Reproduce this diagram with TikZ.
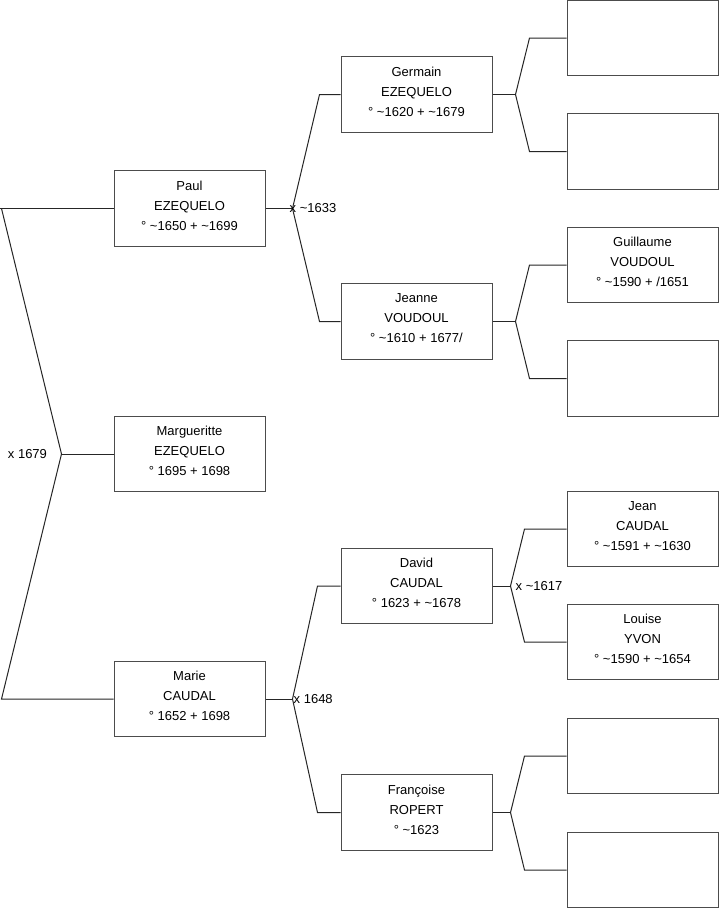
\documentclass[tikz,border=0pt]{standalone}
\usepackage{fontspec}
\setmainfont{Liberation Sans}
\usetikzlibrary{positioning}
\newcommand{\abt}{\textasciitilde}

\begin{document}
\begin{tikzpicture}[x=1pt,y=-1pt,every node/.style={font=\fontsize{13}{20}\selectfont},
  person/.style={draw=black!70,fill=white,line width=1pt,minimum width=151pt,minimum height=75.5pt,align=center,inner sep=0pt,
    execute at end node={\rule[-6pt]{0pt}{6pt}}},
  link/.style={draw=black!85,line width=1pt},
  wed/.style={inner sep=0pt,anchor=west}]
\fill[white] (0,0) rectangle (719,908);
\useasboundingbox (0,0) rectangle (719,908);
\node[person] (paul) at (189.5,208.5) {Paul\\EZEQUELO\\° \abt1650 + \abt1699};
\node[person] (marg) at (189.5,454) {Margueritte\\EZEQUELO\\° 1695 + 1698};
\node[person] (marie) at (189.5,699) {Marie\\CAUDAL\\° 1652 + 1698};
\node[person] (germain) at (416.5,94.5) {Germain\\EZEQUELO\\° \abt1620 + \abt1679};
\node[person] (jeanne) at (416.5,321.5) {Jeanne\\VOUDOUL\\° \abt1610 + 1677/};
\node[person] (david) at (416.5,586) {David\\CAUDAL\\° 1623 + \abt1678};
\node[person] (francoise) at (416.5,812.5) {Françoise\\ROPERT\\° \abt1623};
\node[person] (g1) at (642.5,38) {};
\node[person] (g2) at (642.5,151.5) {};
\node[person] (guillaume) at (642.5,265) {Guillaume\\VOUDOUL\\° \abt1590 + /1651};
\node[person] (g4) at (642.5,378.5) {};
\node[person] (jean) at (642.5,529) {Jean\\CAUDAL\\° \abt1591 + \abt1630};
\node[person] (louise) at (642.5,642) {Louise\\YVON\\° \abt1590 + \abt1654};
\node[person] (g7) at (642.5,756) {};
\node[person] (g8) at (642.5,870) {};
\coordinate (froot) at ([xshift=-52pt]marg.west);
\coordinate (fpaul) at ([xshift=27pt]paul.east);
\coordinate (fmarie) at ([xshift=27pt]marie.east);
\coordinate (fgermain) at ([xshift=23pt]germain.east);
\coordinate (fjeanne) at ([xshift=23pt]jeanne.east);
\coordinate (fdavid) at ([xshift=18pt]david.east);
\coordinate (ffrancoise) at ([xshift=18pt]francoise.east);
\draw[link] (paul.west) -- ++(-114,0);
\draw[link] ([xshift=-112pt]paul.west) -- (froot) -- ([xshift=-112pt]marie.west) -- (marie.west);
\draw[link] (froot) -- (marg.west);
\node[left=11pt of froot] (m0) {x 1679};
\draw[link] (paul.east) -- (fpaul);
\draw[link] (germain.west) -- ++(-21,0) -- (fpaul) -- ([xshift=-21pt]jeanne.west) -- (jeanne.west);
\node[wed] (m1) at ([xshift=-3pt]fpaul) {x \abt1633};
\draw[link] (marie.east) -- (fmarie);
\draw[link] (david.west) -- ++(-23,0) -- (fmarie) -- ([xshift=-23pt]francoise.west) -- (francoise.west);
\node[wed] (m2) at ([xshift=1pt]fmarie) {x 1648};
\draw[link] (germain.east) -- (fgermain);
\draw[link] (g1.west) -- ++(-37,0) -- (fgermain) -- ([xshift=-37pt]g2.west) -- (g2.west);
\draw[link] (jeanne.east) -- (fjeanne);
\draw[link] (guillaume.west) -- ++(-37,0) -- (fjeanne) -- ([xshift=-37pt]g4.west) -- (g4.west);
\draw[link] (david.east) -- (fdavid);
\draw[link] (jean.west) -- ++(-42,0) -- (fdavid) -- ([xshift=-42pt]louise.west) -- (louise.west);
\node[wed] (m3) at ([xshift=5pt]fdavid) {x \abt1617};
\draw[link] (francoise.east) -- (ffrancoise);
\draw[link] (g7.west) -- ++(-42,0) -- (ffrancoise) -- ([xshift=-42pt]g8.west) -- (g8.west);
\end{tikzpicture}
\end{document}
